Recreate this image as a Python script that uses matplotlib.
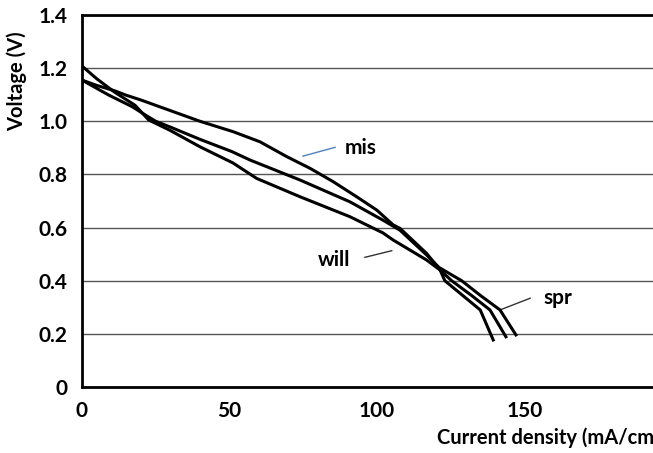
import matplotlib
matplotlib.use("Agg")
import matplotlib.pyplot as plt

plt.rcParams['font.family'] = ['Lato', 'DejaVu Sans']
plt.rcParams['font.weight'] = 'bold'

# polarisation curves (current density mA/cm2, voltage V)
mis_x = [0, 5, 11, 15, 20, 30, 40, 51.2, 60.3, 69.4, 77.3, 85.1, 93.1, 99.9, 105.5,
         107.8, 116.8, 121.4, 123, 129, 135, 139.4]
mis_v = [1.155, 1.135, 1.115, 1.098, 1.08, 1.04, 1.0, 0.961, 0.923, 0.867, 0.823, 0.773,
         0.716, 0.666, 0.61, 0.597, 0.503, 0.44, 0.40, 0.345, 0.29, 0.177]

will_x = [0, 5, 11, 18, 22.6, 30, 40, 51.2, 59.2, 73.9, 90.8, 102, 105.5, 116.8, 121.4,
          125.3, 132, 138.3, 143.7]
will_v = [1.208, 1.16, 1.11, 1.06, 1.005, 0.965, 0.904, 0.843, 0.785, 0.716, 0.641, 0.58,
          0.553, 0.478, 0.44, 0.40, 0.345, 0.29, 0.189]

spr_x = [0, 9, 17, 22, 25, 30, 40, 50.8, 57, 73.9, 90.8, 102, 107.8, 116.8, 121, 128.7,
         135, 141.7, 147.1]
spr_v = [1.155, 1.099, 1.055, 1.02, 1.0, 0.978, 0.932, 0.886, 0.854, 0.779, 0.697, 0.628,
         0.59, 0.497, 0.45, 0.40, 0.345, 0.29, 0.196]

x_ticks = [0, 50, 100, 150, 200]
y_ticks = [0, 0.2, 0.4, 0.6, 0.8, 1.0, 1.2, 1.4]
y_labels = ["0", "0.2", "0.4", "0.6", "0.8", "1.0", "1.2", "1.4"]

W, H = 653, 453
fig = plt.figure(figsize=(W / 100, H / 100), dpi=100)
# axes runs past the right edge of the figure, as in the cropped original
ax = fig.add_axes([82 / W, (H - 387) / H, 590 / W, 372 / H])

for xs, vs in [(mis_x, mis_v), (will_x, will_v), (spr_x, spr_v)]:
    ax.plot(xs, vs, color="black", linewidth=2.2, solid_joinstyle="round", zorder=3)

ax.set_xlim(0, 200)
ax.set_ylim(0, 1.4)
ax.set_xticks(x_ticks)
ax.set_yticks(y_ticks)
ax.set_yticklabels(y_labels)
ax.tick_params(length=0, labelsize=15)
ax.tick_params(axis="y", pad=10.5)
ax.tick_params(axis="x", pad=10)

ax.grid(axis="y", color="#555555", linewidth=1.0, zorder=1)
for side in ["left", "bottom", "top"]:
    ax.spines[side].set_linewidth(2.0)
    ax.spines[side].set_color("black")
ax.spines["right"].set_visible(False)

# axis titles
fig.text(17 / W, 1 - 81 / H, "Voltage (V)", rotation=90, ha="center", va="center",
         fontsize=14.5, fontweight="bold")
fig.text(437 / W, 1 - 437 / H, "Current density (mA/cm²)", ha="left", va="center",
         fontsize=14.5, fontweight="bold")

# series labels with leader lines
ax.plot([74.9, 85.8], [0.869, 0.902], color="#4f81bd", linewidth=1.0)
ax.text(89.2, 0.90, "mis", ha="left", va="center", fontsize=15, fontweight="bold")
ax.plot([95.9, 105], [0.488, 0.513], color="#333333", linewidth=1.0)
ax.text(90.8, 0.478, "will", ha="right", va="center", fontsize=15, fontweight="bold")
ax.plot([141.7, 151.9], [0.29, 0.334], color="#333333", linewidth=1.0)
ax.text(156.3, 0.335, "spr", ha="left", va="center", fontsize=15, fontweight="bold")

fig.savefig("out.png", dpi=100)
